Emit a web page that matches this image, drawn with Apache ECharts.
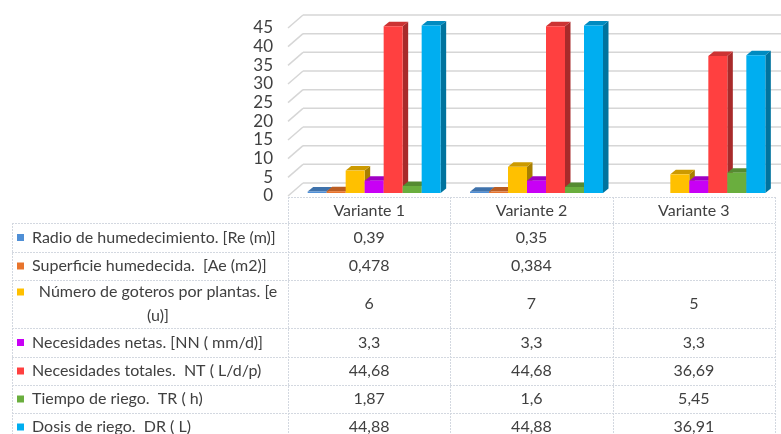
<!DOCTYPE html>
<html>
<head>
<meta charset="utf-8">
<script src="https://cdn.jsdelivr.net/npm/echarts@6/dist/echarts.min.js"></script>
<style>
  html, body { margin: 0; padding: 0; background: #fff; }
  #chart { width: 781px; height: 434px; }
</style>
</head>
<body>
<div id="chart"></div>
<script>
// ---- data ----
const categories = ['Variante 1', 'Variante 2', 'Variante 3'];
const seriesNames = [
  'Radio de humedecimiento. [Re (m)]',
  'Superficie humedecida.  [Ae (m2)]',
  'Número de goteros por plantas. [e (u)]',
  'Necesidades netas. [NN ( mm/d)]',
  'Necesidades totales.  NT ( L/d/p)',
  'Tiempo de riego.  TR ( h)',
  'Dosis de riego.  DR ( L)'
];
const radio      = [0.39, 0.35, null];
const superficie = [0.478, 0.384, null];
const goteros    = [6, 7, 5];
const netas      = [3.3, 3.3, 3.3];
const totales    = [44.68, 44.68, 36.69];
const tiempo     = [1.87, 1.6, 5.45];
const dosis      = [44.88, 44.88, 36.91];
const yTicks = [0, 5, 10, 15, 20, 25, 30, 35, 40, 45];

const seriesValues = [radio, superficie, goteros, netas, totales, tiempo, dosis];
const colors = ['#4f8fd6', '#e8742c', '#ffc000', '#c800f5', '#ff4040', '#6aae3e', '#00aef0'];

// ---- layout ----
const W = 781, H = 434;
const GRID = { left: 288, right: 6, top: 28, bottom: 238 };
const WALL = [15, -13];         // offset of the back wall from the front plane
const BAR_FRONT = [5, -3];      // bar front faces sit slightly behind the front plane
const BAR_DEPTH = [5.5, -4.5];  // visible depth of each column
const BAR_W = 19;
const TEXT = '#404040';
const FONT = 'Lato';
const FS = 16;
const LINE = '#d3d8e0';

function shade(hex, f) {
  const n = parseInt(hex.slice(1), 16);
  const r = Math.round(((n >> 16) & 255) * f);
  const g = Math.round(((n >> 8) & 255) * f);
  const b = Math.round((n & 255) * f);
  return 'rgb(' + r + ',' + g + ',' + b + ')';
}

function fmt(v) {
  return v == null ? '' : String(v).replace('.', ',');
}

// back wall, left wall and floor lines
function renderWall(params, api) {
  const cs = params.coordSys;
  const y = api.coord([0, api.value(1)])[1];
  const x0 = cs.x, x1 = cs.x + cs.width;
  const st = { stroke: '#d6d6d6', lineWidth: 1.5 };
  return {
    type: 'group',
    children: [
      { type: 'line', shape: { x1: x0, y1: y, x2: x0 + WALL[0], y2: y + WALL[1] }, style: st },
      { type: 'line', shape: { x1: x0 + WALL[0], y1: y + WALL[1], x2: x1 + WALL[0], y2: y + WALL[1] }, style: st }
    ]
  };
}

function makeBarRender(si, count) {
  return function (params, api) {
    const v = api.value(1);
    if (v == null || isNaN(v)) return;
    const top = api.coord([api.value(0), v]);
    const base = api.coord([api.value(0), 0]);
    const x = top[0] - count * BAR_W / 2 + si * BAR_W + BAR_FRONT[0];
    const yT = top[1] + BAR_FRONT[1];
    const yB = base[1] + BAR_FRONT[1];
    const dx = BAR_DEPTH[0], dy = BAR_DEPTH[1];
    const c = api.visual('color');
    return {
      type: 'group',
      children: [
        { type: 'polygon', shape: { points: [[x + BAR_W, yT], [x + BAR_W + dx, yT + dy], [x + BAR_W + dx, yB + dy], [x + BAR_W, yB]] },
          style: { fill: shade(c, 0.66) } },
        { type: 'polygon', shape: { points: [[x, yT], [x + dx, yT + dy], [x + BAR_W + dx, yT + dy], [x + BAR_W, yT]] },
          style: { fill: shade(c, 0.8) } },
        { type: 'rect', shape: { x: x, y: yT, width: BAR_W, height: yB - yT }, style: { fill: c } }
      ]
    };
  };
}

// ---- data table under the plot ----
const ctx = document.createElement('canvas').getContext('2d');
function textWidth(s, size) {
  ctx.font = size + 'px ' + FONT;
  return ctx.measureText(s).width;
}
function wrapWords(s, size, maxW) {
  const words = s.split(' ');
  const lines = [];
  let cur = '';
  words.forEach(w => {
    const t = cur === '' ? w : cur + ' ' + w;
    if (cur !== '' && w !== '' && textWidth(t, size) > maxW) { lines.push(cur); cur = w; }
    else cur = t;
  });
  lines.push(cur);
  return lines;
}

function buildTable() {
  const els = [];
  const plotW = W - GRID.left - GRID.right;
  const colW = plotW / categories.length;
  const tableTop = H - GRID.bottom + 1;
  const rowH = [26, 29, 28, 48, 29, 28, 28, 28];
  const labelX = 12;
  const colX = [];
  for (let i = 0; i <= categories.length; i++) colX.push(GRID.left + i * colW);

  const ys = [tableTop];
  rowH.forEach(h => ys.push(ys[ys.length - 1] + h));
  const dash = { stroke: LINE, lineWidth: 1, lineDash: [2, 1] };

  // horizontal rules
  ys.forEach((y, i) => {
    const xa = i === 0 ? GRID.left : labelX;
    els.push({ type: 'line', shape: { x1: xa, y1: y + 0.5, x2: colX[colX.length - 1], y2: y + 0.5 }, style: dash, silent: true });
  });
  // vertical rules
  els.push({ type: 'line', shape: { x1: labelX + 0.5, y1: ys[1], x2: labelX + 0.5, y2: ys[ys.length - 1] }, style: dash, silent: true });
  colX.forEach(x => {
    els.push({ type: 'line', shape: { x1: Math.round(x) + 0.5, y1: ys[0], x2: Math.round(x) + 0.5, y2: ys[ys.length - 1] }, style: dash, silent: true });
  });

  const textL = 32, textW = 252;
  seriesNames.forEach((name, i) => {
    const y0 = ys[i + 1], y1 = ys[i + 2];
    const cy = (y0 + y1) / 2;
    const lines = wrapWords(name, FS, textW);
    const wraps = lines.length > 1;
    const lh = 24;
    const firstLineY = cy - (lines.length - 1) * lh / 2;
    els.push({ type: 'rect', shape: { x: 17, y: firstLineY - 3.5, width: 7, height: 7 },
      style: { fill: colors[i] }, silent: true });
    els.push({
      type: 'text', silent: true,
      x: wraps ? textL + textW / 2 : textL, y: cy,
      style: {
        text: lines.join('\n'), fill: TEXT, font: FS + 'px ' + FONT,
        align: wraps ? 'center' : 'left', verticalAlign: 'middle',
        lineHeight: lh
      }
    });
    seriesValues[i].forEach((v, j) => {
      els.push({
        type: 'text', silent: true,
        x: (colX[j] + colX[j + 1]) / 2, y: cy,
        style: { text: fmt(v), fill: TEXT, font: FS + 'px ' + FONT, align: 'center', verticalAlign: 'middle' }
      });
    });
  });
  return els;
}

// ---- chart ----
const chart = echarts.init(document.getElementById('chart'), null, { renderer: 'canvas', width: W, height: H });

const series = [{
  type: 'custom',
  name: 'wall',
  renderItem: renderWall,
  data: yTicks.map(t => [0, t]),
  encode: { x: 0, y: 1 },
  clip: false,
  silent: true,
  z: 1
}];
seriesNames.forEach((name, si) => {
  series.push({
    type: 'custom',
    name: name,
    renderItem: makeBarRender(si, seriesNames.length),
    data: seriesValues[si].map((v, j) => [j, v]),
    encode: { x: 0, y: 1 },
    itemStyle: { color: colors[si] },
    clip: false,
    z: 2
  });
});

chart.setOption({
  animation: false,
  backgroundColor: '#fff',
  color: colors,
  grid: { left: GRID.left, right: GRID.right, top: GRID.top, bottom: GRID.bottom, containLabel: false },
  xAxis: {
    type: 'category',
    data: categories,
    axisLine: { show: false },
    axisTick: { show: false },
    axisLabel: { color: TEXT, fontSize: FS, fontFamily: FONT, margin: 7 },
    splitLine: { show: false }
  },
  yAxis: {
    type: 'value',
    min: 0, max: 45, interval: 5,
    axisLine: { show: false },
    axisTick: { show: false },
    splitLine: { show: false },
    axisLabel: { color: TEXT, fontSize: 17, fontFamily: FONT, margin: 15 }
  },
  series: series,
  graphic: { elements: buildTable() }
});
</script>
</body>
</html>
